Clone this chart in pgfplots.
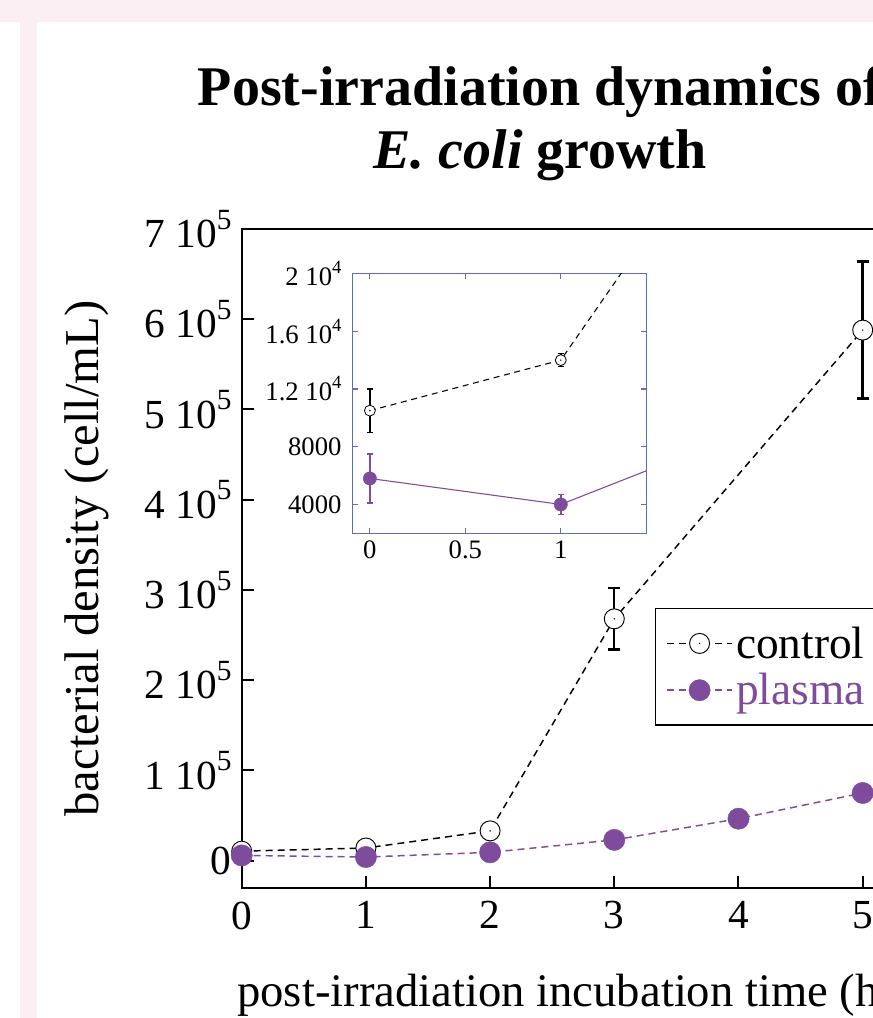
\documentclass[border=0pt]{standalone}
\usepackage{pgfplots}
\pgfplotsset{compat=1.18}
\usepackage{fontspec}
\setmainfont{Liberation Serif}
\definecolor{plasmac}{RGB}{127,75,157}
\definecolor{insetc}{RGB}{96,108,188}
\definecolor{bgpink}{RGB}{252,239,243}
\newcommand\spm[1]{\raisebox{0.45em}{\fontsize{22}{22}\selectfont #1}}
\newcommand\spi[1]{\raisebox{0.45em}{\fontsize{14}{14}\selectfont #1}}

\pgfdeclareplotmark{cdot}{%
  \pgfpathcircle{\pgfpointorigin}{\pgfplotmarksize}%
  \pgfusepathqfillstroke
  \begin{pgfscope}%
  \pgfsetfillcolor{black}%
  \pgfpathcircle{\pgfpointorigin}{0.6pt}%
  \pgfusepathqfill
  \end{pgfscope}%
}

\begin{document}
\begin{tikzpicture}
\useasboundingbox (0pt,0pt) rectangle (654.75pt,-763.5pt);
\clip (0pt,0pt) rectangle (654.75pt,-763.5pt);
\fill[bgpink] (0pt,0pt) rectangle (654.75pt,-16.5pt);
\fill[bgpink] (15pt,0pt) rectangle (27.75pt,-763.5pt);

\begin{axis}[
  at={(181.275pt,-665.775pt)}, anchor=south west, scale only axis,
  width=558.9pt, height=494pt,
  xmin=0, xmax=6, ymin=-30000, ymax=700000,
  scaled y ticks=false, scaled x ticks=false,
  axis line style={line width=1.5pt},
  every tick/.style={black, line width=1.5pt},
  tick align=inside, major tick length=9pt,
  xtick={0,1,2,3,4,5,6},
  ytick={0,100000,200000,300000,400000,500000,600000,700000},
  yticklabels={0,1 10\spm{5},2 10\spm{5},3 10\spm{5},4 10\spm{5},5 10\spm{5},6 10\spm{5},7 10\spm{5}},
  xtick pos=bottom, ytick pos=left,
  /pgf/number format/assume math mode=true,
  tick label style={font=\fontsize{31}{33}\selectfont},
  xticklabel style={inner sep=0pt, anchor=north, yshift=-10.2pt},
  yticklabel style={inner sep=0pt, anchor=east, xshift=-7.5pt},
  title={Post-irradiation dynamics of\\\textit{E. coli} growth},
  title style={font=\fontsize{42}{47}\selectfont\bfseries, align=center, at={(0.4003,1.061)}, anchor=south, inner sep=0pt},
  xlabel={post-irradiation incubation time (hours)},
  xlabel style={font=\fontsize{35}{40}\selectfont, at={(-0.0063,-0.181)}, anchor=base west, inner sep=0pt},
  ylabel={bacterial density (cell/mL)},
  ylabel style={font=\fontsize{36.5}{40}\selectfont, at={(-0.2080,0.5)}, anchor=center, inner sep=0pt},
  legend style={at={(0.5546,0.4246)}, anchor=north west, draw=black, line width=1pt,
    font=\fontsize{34}{36}\selectfont, inner xsep=8pt, inner ysep=8.5pt,
    nodes={inner xsep=2.5pt, inner ysep=5pt}, cells={anchor=west}},
  legend image code/.code={\draw[mark repeat=2,mark phase=2] plot coordinates {(0pt,0pt)(24.4pt,0pt)(48.75pt,0pt)};},
  clip=false,
]
\addplot[black, line width=1.1pt, dash pattern=on 5.25pt off 3.75pt,
  mark=cdot, mark size=7.5pt, mark options={solid, fill=white, draw=black, line width=0.7pt},
  error bars/.cd, y dir=both, y explicit,
  error bar style={solid, line width=1.8pt, black},
  error mark options={rotate=90, mark size=4.5pt, line width=1.8pt, black, solid}]
  coordinates {(0,10500) +- (0,1500) (1,14000) +- (0,450) (2,33000) +- (0,2000) (3,268000) +- (0,34000) (5,588000) +- (0,76000)};
\addlegendentry{control}
\addplot[plasmac, line width=1.1pt, dash pattern=on 5.25pt off 3.75pt,
  mark=*, mark size=8pt, mark options={solid, fill=plasmac, draw=plasmac, line width=0.3pt},
  error bars/.cd, y dir=both, y explicit,
  error bar style={solid, line width=1.5pt, plasmac},
  error mark options={rotate=90, mark size=3pt, line width=1.5pt, plasmac, solid}]
  coordinates {(0,5800) +- (0,1700) (1,4000) +- (0,680) (2,9200) +- (0,800) (3,23000) +- (0,1500) (4,46500) +- (0,2000) (5,75000) +- (0,3000)};
\addlegendentry{\textcolor{plasmac}{plasma}}
\end{axis}

\begin{axis}[
  at={(264.525pt,-399.975pt)}, anchor=south west, scale only axis,
  width=220.5pt, height=194.85pt,
  xmin=-0.09, xmax=1.45, ymin=2000, ymax=20000,
  scaled y ticks=false, scaled x ticks=false,
  axis background/.style={fill=white},
  axis line style={insetc, line width=0.9pt},
  every tick/.style={insetc, line width=0.8pt},
  tick align=inside, major tick length=4pt,
  xtick={0,0.5,1},
  ytick={4000,8000,12000,16000,20000},
  yticklabels={4000,8000,1.2 10\spi{4},1.6 10\spi{4},2 10\spi{4}},
  /pgf/number format/assume math mode=true,
  tick label style={font=\fontsize{20}{22}\selectfont, black},
  xticklabel style={inner sep=0pt, anchor=north, yshift=-5.25pt},
  yticklabel style={inner sep=0pt, anchor=east, xshift=-8.25pt},
]
\addplot[black, line width=0.8pt, dash pattern=on 4.5pt off 3.5pt,
  mark=cdot, mark size=4.1pt, mark options={solid, fill=white, draw=black, line width=0.6pt},
  error bars/.cd, y dir=both, y explicit,
  error bar style={solid, line width=1.1pt, black},
  error mark options={rotate=90, mark size=2.3pt, line width=1.1pt, black, solid}]
  coordinates {(0,10500) +- (0,1500) (1,14000) +- (0,450) (2,33000) +- (0,2000)};
\addplot[plasmac, line width=0.8pt,
  mark=*, mark size=5pt, mark options={solid, fill=plasmac, draw=plasmac, line width=0.3pt},
  error bars/.cd, y dir=both, y explicit,
  error bar style={solid, line width=1.1pt, plasmac},
  error mark options={rotate=90, mark size=2.3pt, line width=1.1pt, plasmac, solid}]
  coordinates {(0,5800) +- (0,1700) (1,4000) +- (0,680) (2,9200) +- (0,800)};
\end{axis}
\end{tikzpicture}
\end{document}
